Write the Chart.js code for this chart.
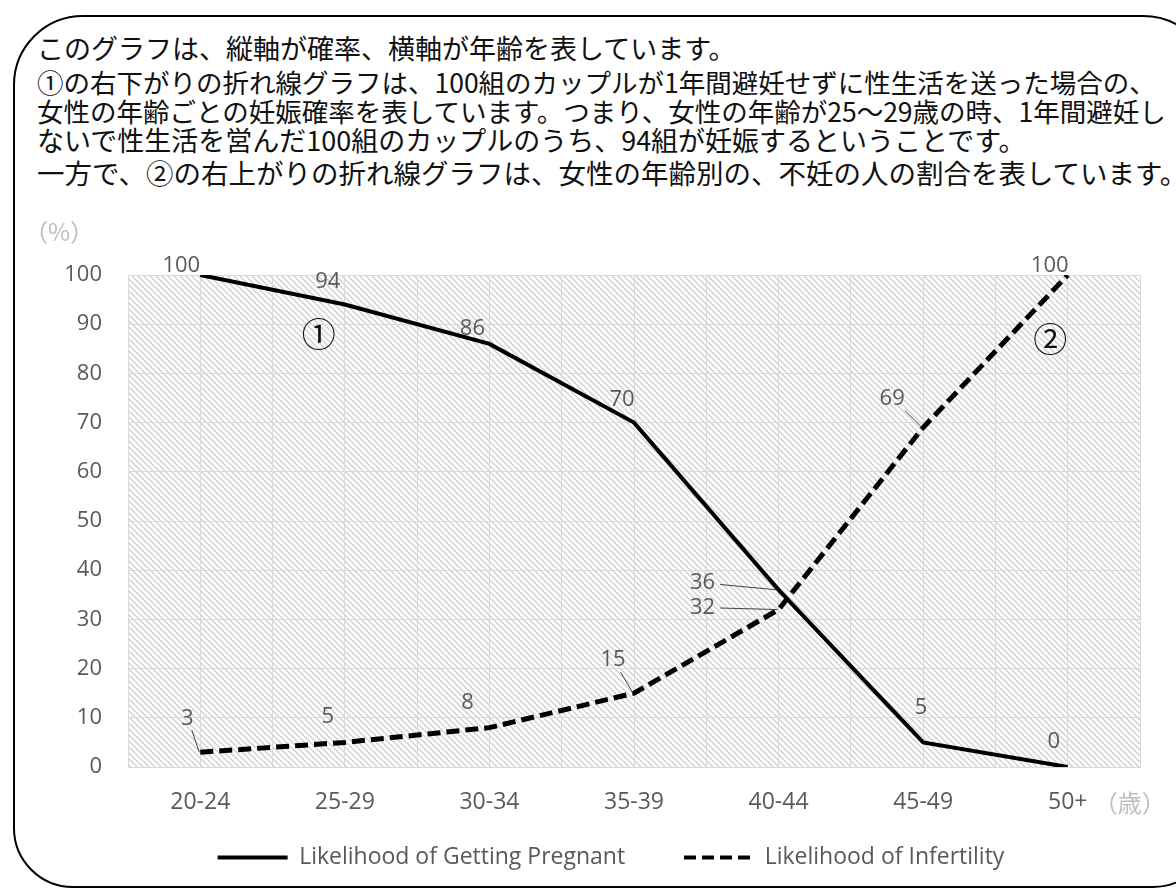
<!DOCTYPE html>
<html>
<head>
<meta charset="utf-8">
<script src="https://cdn.jsdelivr.net/npm/chart.js@4.4.0/dist/chart.umd.min.js"></script>
<style>
  html, body { margin: 0; padding: 0; background: #fff; overflow: hidden; }
  #wrap { position: relative; width: 1176px; height: 892px; overflow: hidden; }
  #frame { position: absolute; left: 13px; top: 15px; width: 1200px; height: 873px;
           border: 2.5px solid #000; border-radius: 70px 70px 60px 60px; box-sizing: border-box; }
  .note { position: absolute; left: 37px; font-family: "Noto Sans CJK JP"; font-size: 27px;
          line-height: 30px; white-space: nowrap; color: #111; }
  canvas { position: absolute; left: 0; top: 0; }
</style>
</head>
<body>
<div id="wrap">
  <div id="frame"></div>
  <div class="note" style="top:33px">このグラフは、縦軸が確率、横軸が年齢を表しています。</div>
  <div class="note" style="top:67px;font-size:26.5px">①の右下がりの折れ線グラフは、100組のカップルが1年間避妊せずに性生活を送った場合の、</div>
  <div class="note" style="top:96px;font-size:26.5px">女性の年齢ごとの妊娠確率を表しています。つまり、女性の年齢が25〜29歳の時、1年間避妊し</div>
  <div class="note" style="top:125px">ないで性生活を営んだ100組のカップルのうち、94組が妊娠するということです。</div>
  <div class="note" style="top:157px;font-size:27.5px">一方で、②の右上がりの折れ線グラフは、女性の年齢別の、不妊の人の割合を表しています。</div>
  <canvas id="chart" width="1176" height="920"></canvas>
</div>
<script>
// data
const ageGroups = ['20-24', '25-29', '30-34', '35-39', '40-44', '45-49', '50+'];
const pregnantPct = [100, 94, 86, 70, 36, 5, 0];
const infertilePct = [3, 5, 8, 15, 32, 69, 100];
const seriesNames = ['Likelihood of Getting Pregnant', 'Likelihood of Infertility'];

// where each value label sits relative to its point (px), and which ones get a leader line
const pregnantLabelShift = [[-19, -9], [-17, -23], [-17, -15], [-12, -23], [-76, -7], [-2, -35], [-14, -25]];
const pregnantLeader = [0, 0, 0, 0, 1, 0, 0];
const infertileLabelShift = [[-13, -34], [-17, -26], [-22, -25], [-21, -33], [-76, -2], [-31, -29], [-18, -9]];
const infertileLeader = [1, 0, 0, 1, 1, 1, 0];

const grey = '#595959';
const gridGrey = '#d9d9d9';
const latin = '"Open Sans", sans-serif';
const cjk = '"Noto Sans CJK JP", sans-serif';

function makeHatch() {
  const c = document.createElement('canvas');
  c.width = 6; c.height = 6;
  const g = c.getContext('2d');
  g.strokeStyle = '#d0d0d0';
  g.lineWidth = 1.4;
  g.beginPath();
  for (const k of [-6, 0, 6]) {
    g.moveTo(k - 3, -3);
    g.lineTo(k + 9, 9);
  }
  g.stroke();
  return c;
}

// dashed swatch for the legend (a stroked zero-height box overlaps its own dashes)
function makeDashFill() {
  const c = document.createElement('canvas');
  c.width = 18; c.height = 5;
  const g = c.getContext('2d');
  g.fillStyle = '#000';
  g.fillRect(0, 0, 12, 5);
  return c.getContext('2d').createPattern(c, 'repeat');
}

const hatchBg = {
  id: 'hatchBg',
  beforeDraw(chart) {
    const { ctx, chartArea: a } = chart;
    ctx.save();
    ctx.fillStyle = ctx.createPattern(makeHatch(), 'repeat');
    ctx.fillRect(a.left, a.top, a.right - a.left, a.bottom - a.top);
    ctx.restore();
  }
};

// nudge the legend right and up to where it sits in the original
const shiftLegend = {
  id: 'shiftLegend',
  afterLayout(chart) {
    const lg = chart.legend;
    const dx = 41;
    lg.left += dx; lg.right += dx;
    lg.top -= 29; lg.bottom -= 29;
    const item = lg.legendItems[1];
    if (item && item.fillStyle instanceof CanvasPattern) {
      item.fillStyle.setTransform(new DOMMatrix().translate(lg.legendHitBoxes[1].left + dx, 0));
    }
  }
};

const valueLabels = {
  id: 'valueLabels',
  afterDatasetsDraw(chart) {
    const ctx = chart.ctx;
    const shifts = [pregnantLabelShift, infertileLabelShift];
    const leaders = [pregnantLeader, infertileLeader];
    ctx.save();
    ctx.font = '22px ' + latin;
    ctx.textAlign = 'center';
    ctx.textBaseline = 'middle';
    chart.data.datasets.forEach((ds, di) => {
      const meta = chart.getDatasetMeta(di);
      meta.data.forEach((pt, i) => {
        const lx = pt.x + shifts[di][i][0];
        const ly = pt.y + shifts[di][i][1];
        const txt = String(ds.data[i]);
        ctx.fillStyle = grey;
        ctx.fillText(txt, lx, ly);
        if (leaders[di][i]) {
          const hw = ctx.measureText(txt).width / 2 + 5;
          const hh = 12;
          const vx = pt.x - lx, vy = pt.y - ly;
          const t = Math.min(vx ? hw / Math.abs(vx) : 9, vy ? hh / Math.abs(vy) : 9);
          ctx.strokeStyle = '#404040';
          ctx.lineWidth = 1;
          ctx.beginPath();
          ctx.moveTo(lx + vx * t, ly + vy * t);
          ctx.lineTo(pt.x - 1, pt.y);
          ctx.stroke();
        }
      });
    });
    ctx.restore();
  }
};

const extraText = {
  id: 'extraText',
  afterDraw(chart) {
    const ctx = chart.ctx;
    const x = chart.scales.x, y = chart.scales.y;
    ctx.save();
    ctx.textAlign = 'center';
    ctx.textBaseline = 'middle';
    // circled markers
    ctx.fillStyle = '#111';
    ctx.font = '34px ' + cjk;
    ctx.fillText('①', x.getPixelForValue(0.82), y.getPixelForValue(88));
    ctx.fillText('②', x.getPixelForValue(5.88), y.getPixelForValue(87));
    // units
    ctx.fillStyle = '#bdbdbd';
    ctx.font = '24px ' + cjk;
    ctx.fillText('（%）', chart.chartArea.left - 69, chart.chartArea.top - 43);
    ctx.fillText('（歳）', x.getPixelForValue(6) + 62, chart.chartArea.bottom + 36);
    ctx.restore();
  }
};

new Chart(document.getElementById('chart').getContext('2d'), {
  type: 'line',
  data: {
    labels: ageGroups,
    datasets: [
      {
        label: seriesNames[0],
        data: pregnantPct,
        borderColor: '#000',
        backgroundColor: '#000',
        borderWidth: 4,
        pointRadius: 0,
        tension: 0
      },
      {
        label: seriesNames[1],
        data: infertilePct,
        borderColor: '#000',
        backgroundColor: '#000',
        borderWidth: 5,
        borderDash: [13, 6],
        pointRadius: 0,
        tension: 0
      }
    ]
  },
  options: {
    responsive: false,
    animation: false,
    layout: { padding: { left: 0, right: 36, top: 275, bottom: 12 } },
    scales: {
      x: {
        type: 'category',
        offset: true,
        grid: { color: gridGrey, offset: true, drawTicks: false },
        border: { color: gridGrey },
        ticks: { color: grey, font: { family: latin, size: 23 }, padding: 22 },
        afterFit(s) { s.height = 50; }
      },
      x2: {
        type: 'category',
        position: 'top',
        labels: ageGroups,
        offset: true,
        grid: { color: gridGrey, offset: false, drawTicks: false },
        border: { display: false },
        ticks: { display: false },
        afterFit(s) { s.height = 0; }
      },
      y: {
        min: 0,
        max: 100,
        grid: { color: gridGrey, drawTicks: false },
        border: { display: false },
        ticks: { stepSize: 10, color: grey, font: { family: latin, size: 22 }, padding: 26 },
        afterFit(s) { s.width = 128; }
      }
    },
    plugins: {
      tooltip: { enabled: false },
      legend: {
        position: 'bottom',
        labels: {
          boxWidth: 70,
          boxHeight: 4,
          padding: 58,
          color: grey,
          font: { family: latin, size: 23 },
          generateLabels(chart) {
            const items = Chart.defaults.plugins.legend.labels.generateLabels(chart);
            items.forEach((it, i) => {
              it.lineWidth = 0;
              it.fillStyle = i === 1 ? makeDashFill() : '#000';
            });
            return items;
          }
        }
      }
    }
  },
  plugins: [hatchBg, shiftLegend, valueLabels, extraText]
});
</script>
</body>
</html>
